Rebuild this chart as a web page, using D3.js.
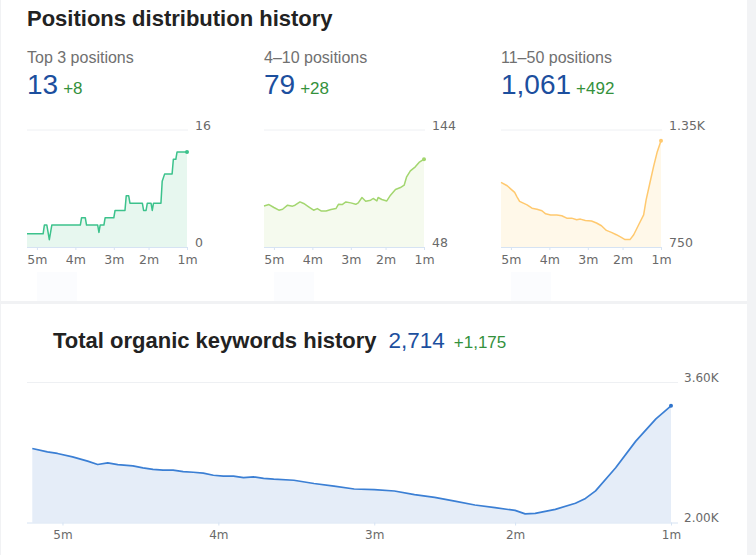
<!DOCTYPE html>
<html>
<head>
<meta charset="utf-8">
<script src="https://cdn.jsdelivr.net/npm/d3@7"></script>
<style>
  html, body { margin: 0; padding: 0; background: #fff; }
  svg { display: block; }
</style>
</head>
<body>
<svg id="chart" width="756" height="555"></svg>
<script>
// ---------- data ----------
const tickLabels = ["5m", "4m", "3m", "2m", "1m"];
const tickDates = ["2022-12-01", "2023-01-01", "2023-02-01", "2023-03-01", "2023-04-01"];
const smallStart = "2022-11-23";
const bigStart = "2022-11-25";

const cardTitles = ["Top 3 positions", "4–10 positions", "11–50 positions"];
const cardValues = ["13", "79", "1,061"];
const cardDeltas = ["+8", "+28", "+492"];
const cardYTicks = [["0", "16"], ["48", "144"], ["750", "1.35K"]];
const cardDomains = [[0, 16], [48, 144], [750, 1350]];

// Top 3 positions (day offset from smallStart, value)
const top3Days = [0, 13, 14, 16, 17, 18, 20, 43, 44, 47, 48, 57, 58, 59, 62, 63, 70, 71, 79, 80, 82, 83, 93, 94, 96, 97, 100, 101, 102, 108, 109, 111, 117, 118, 120, 121, 129];
const top3Vals = [1.8, 1.8, 3, 3, 2, 1, 3, 3, 4, 4, 3, 3, 2, 3, 3, 4, 4, 5, 5, 7, 7, 6, 6, 5, 5, 6, 6, 5, 6, 6, 9, 10, 10, 12, 12, 13, 13];

// 4–10 positions
const pos410Days = [0, 4, 8, 12, 15, 19, 23, 25, 29, 32, 36, 40, 43, 46, 50, 54, 58, 60, 63, 66, 70, 74, 76, 79, 82, 86, 88, 91, 92, 95, 99, 102, 106, 110, 113, 115, 118, 122, 125, 129];
const pos410Vals = [81.7, 82.8, 80.4, 78.2, 79, 82.3, 81.5, 82.3, 85, 83.7, 81, 78.2, 79.5, 77.6, 77.6, 78.7, 79.5, 83, 82.8, 85, 84.2, 83, 84.2, 88.6, 85.6, 86.4, 87.8, 85.8, 88.6, 87, 85.8, 90.5, 95.2, 96.8, 98.7, 105.6, 110.5, 113.8, 117.4, 120.1];

// 11–50 positions
const pos1150Days = [0, 5, 8, 11, 13, 15, 18, 21, 25, 29, 33, 36, 40, 45, 49, 53, 57, 61, 64, 68, 73, 77, 81, 85, 89, 93, 97, 100, 104, 107, 111, 115, 117, 120, 123, 126, 129];
const pos1150Vals = [1081, 1064, 1047, 1030, 1006, 984, 975, 966, 949, 944, 936, 920, 914, 914, 910, 898, 898, 890, 893, 886, 883, 873, 859, 835, 825, 813, 799, 788, 788, 813, 864, 915, 992, 1077, 1162, 1239, 1295];

// Total organic keywords (day offset from bigStart)
const totalTitle = "Total organic keywords history";
const totalValue = "2,714";
const totalDelta = "+1,175";
const totalYTicks = ["2.00K", "3.60K"];
const totalDomain = [2000, 3600];
const totalDays = [0, 3, 5, 8, 11, 13, 15, 17, 20, 22, 24, 26, 28, 30, 32, 34, 36, 38, 40, 42, 44, 46, 48, 52, 56, 60, 64, 68, 72, 76, 80, 84, 88, 92, 96, 98, 100, 104, 108, 110, 112, 116, 120, 124, 127];
const totalVals = [2846, 2807, 2789, 2750, 2701, 2663, 2681, 2662, 2647, 2625, 2608, 2598, 2598, 2582, 2574, 2565, 2540, 2530, 2530, 2512, 2521, 2505, 2495, 2483, 2446, 2415, 2383, 2375, 2360, 2318, 2288, 2245, 2200, 2169, 2138, 2098, 2105, 2150, 2220, 2275, 2362, 2625, 2930, 3185, 3333];

const seriesDays = [top3Days, pos410Days, pos1150Days];
const seriesVals = [top3Vals, pos410Vals, pos1150Vals];
const lineColors = ["#3cc28c", "#a3d66f", "#ffc96f"];
const fillColors = ["#e7f7ef", "#f5faee", "#fff8e9"];

// ---------- drawing ----------
const svg = d3.select("#chart");
const parse = d3.timeParse("%Y-%m-%d");
const ticks = tickDates.map(parse);

// background frame
svg.append("rect").attr("x", 0).attr("y", 0).attr("width", 756).attr("height", 555).attr("fill", "#fff");
svg.append("rect").attr("x", 747).attr("y", 0).attr("width", 9).attr("height", 555).attr("fill", "#f2f3f5");
svg.append("rect").attr("x", 0).attr("y", 301).attr("width", 747).attr("height", 3).attr("fill", "#f1f2f4");
svg.append("rect").attr("x", 0).attr("y", 0).attr("width", 1).attr("height", 555).attr("fill", "#f1f2f4");

const titleFont = "'Liberation Sans', Arial, sans-serif";
const axisFont = "'DejaVu Sans', Verdana, sans-serif";

svg.append("text").attr("x", 27).attr("y", 26)
  .attr("font-family", titleFont).attr("font-size", 22).attr("font-weight", "bold")
  .attr("fill", "#222").text("Positions distribution history");

const cardX = [27, 264, 501];
const plotW = 160;
const gTop = 130, gBase = 247;

cardX.forEach((x0, i) => {
  // header
  svg.append("text").attr("x", x0).attr("y", 62.5)
    .attr("font-family", titleFont).attr("font-size", 16).attr("fill", "#707070")
    .text(cardTitles[i]);
  const v = svg.append("text").attr("x", x0).attr("y", 94)
    .attr("font-family", titleFont).attr("font-size", 28).attr("fill", "#1c4f9e")
    .text(cardValues[i]);
  const vw = v.node().getComputedTextLength();
  svg.append("text").attr("x", x0 + vw + 5).attr("y", 94)
    .attr("font-family", titleFont).attr("font-size", 17).attr("fill", "#34913c")
    .text(cardDeltas[i]);

  // faint hover block
  svg.append("rect").attr("x", x0 + 10).attr("y", 272).attr("width", 40).attr("height", 29)
    .attr("fill", "#fbfcfe");

  const x = d3.scaleTime().domain([parse(smallStart), ticks[ticks.length - 1]]).range([x0, x0 + plotW]);
  const y = d3.scaleLinear().domain(cardDomains[i]).range([gBase, gTop]);
  const start = parse(smallStart);
  const pts = seriesDays[i].map((d, k) => ({ date: d3.timeDay.offset(start, d), v: seriesVals[i][k] }));

  // grid line top
  svg.append("line").attr("x1", x0).attr("x2", x0 + plotW + 1)
    .attr("y1", y(cardDomains[i][1])).attr("y2", y(cardDomains[i][1]))
    .attr("stroke", "#eef0f3").attr("stroke-width", 1);

  const area = d3.area().x(d => x(d.date)).y0(y(cardDomains[i][0])).y1(d => y(d.v));
  const line = d3.line().x(d => x(d.date)).y(d => y(d.v));
  svg.append("path").datum(pts).attr("d", area).attr("fill", fillColors[i]);
  svg.append("path").datum(pts).attr("d", line).attr("fill", "none")
    .attr("stroke", lineColors[i]).attr("stroke-width", 1.5).attr("stroke-linejoin", "round");
  const last = pts[pts.length - 1];
  svg.append("circle").attr("cx", x(last.date)).attr("cy", y(last.v)).attr("r", 2)
    .attr("fill", lineColors[i]);

  // x axis
  const axis = d3.axisBottom(x).tickValues(ticks).tickSize(3).tickSizeOuter(0)
    .tickFormat((d, k) => tickLabels[k]);
  const ag = svg.append("g").attr("transform", `translate(0,${gBase})`).call(axis);
  ag.select(".domain").attr("stroke", "#d6e3f3").attr("d", `M${x0},0.5H${x0 + plotW + 1}`);
  ag.selectAll(".tick line").attr("stroke", "#d6e3f3");
  ag.selectAll(".tick text").attr("font-family", axisFont).attr("font-size", 12.5)
    .attr("fill", "#6a6a6a").attr("dy", "0.88em");

  // y labels (right)
  const yAxis = d3.axisRight(y).tickValues(cardDomains[i]).tickSize(0)
    .tickFormat((d, k) => cardYTicks[i][k]);
  const yg = svg.append("g").attr("transform", `translate(${x0 + plotW + 8},0)`).call(yAxis);
  yg.select(".domain").remove();
  yg.selectAll(".tick text").attr("font-family", axisFont).attr("font-size", 12.5)
    .attr("fill", "#6a6a6a").attr("x", 0).attr("dy", "-0.05em");
});

// ---------- bottom chart ----------
const bt = svg.append("text").attr("x", 53).attr("y", 348)
  .attr("font-family", titleFont).attr("font-size", 22).attr("font-weight", "bold")
  .attr("fill", "#222").text(totalTitle);
const btw = bt.node().getComputedTextLength();
const bvx = Math.max(53 + btw + 8, 388.5);
const bv = svg.append("text").attr("x", bvx).attr("y", 348)
  .attr("font-family", titleFont).attr("font-size", 22.5).attr("fill", "#1c4f9e").text(totalValue);
const bvw = bv.node().getComputedTextLength();
svg.append("text").attr("x", bvx + bvw + 9).attr("y", 348)
  .attr("font-family", titleFont).attr("font-size", 17).attr("fill", "#34913c").text(totalDelta);

const bTop = 382.5, bBase = 522.5;
const bx = d3.scaleTime().domain([parse(bigStart), ticks[ticks.length - 1]]).range([32.3, 671]);
const by = d3.scaleLinear().domain(totalDomain).range([bBase, bTop]);
const bStart = parse(bigStart);
const bpts = totalDays.map((d, k) => ({ date: d3.timeDay.offset(bStart, d), v: totalVals[k] }));

svg.append("line").attr("x1", 27).attr("x2", 678).attr("y1", by(totalDomain[1])).attr("y2", by(totalDomain[1]))
  .attr("stroke", "#eef0f3");
svg.append("path").datum(bpts)
  .attr("d", d3.area().x(d => bx(d.date)).y0(by(totalDomain[0])).y1(d => by(d.v)))
  .attr("fill", "#e5edf8");
svg.append("path").datum(bpts)
  .attr("d", d3.line().x(d => bx(d.date)).y(d => by(d.v)))
  .attr("fill", "none").attr("stroke", "#3b7fd4").attr("stroke-width", 1.7).attr("stroke-linejoin", "round");
const blast = bpts[bpts.length - 1];
svg.append("circle").attr("cx", bx(blast.date)).attr("cy", by(blast.v)).attr("r", 2).attr("fill", "#2f74cc");

const baxis = d3.axisBottom(bx).tickValues(ticks).tickSize(3).tickSizeOuter(0)
  .tickFormat((d, k) => tickLabels[k]);
const bag = svg.append("g").attr("transform", `translate(0,${bBase})`).call(baxis);
bag.select(".domain").attr("stroke", "#d6e3f3").attr("d", "M27,0.5H678");
bag.selectAll(".tick line").attr("stroke", "#d6e3f3");
bag.selectAll(".tick text").attr("font-family", axisFont).attr("font-size", 12)
  .attr("fill", "#6a6a6a").attr("dy", "0.9em");

const byAxis = d3.axisRight(by).tickValues(totalDomain).tickSize(0)
  .tickFormat((d, k) => totalYTicks[k]);
const byg = svg.append("g").attr("transform", "translate(684,0)").call(byAxis);
byg.select(".domain").remove();
byg.selectAll(".tick text").attr("font-family", axisFont).attr("font-size", 12)
  .attr("fill", "#6a6a6a").attr("x", 0).attr("dy", "-0.05em");
</script>
</body>
</html>
